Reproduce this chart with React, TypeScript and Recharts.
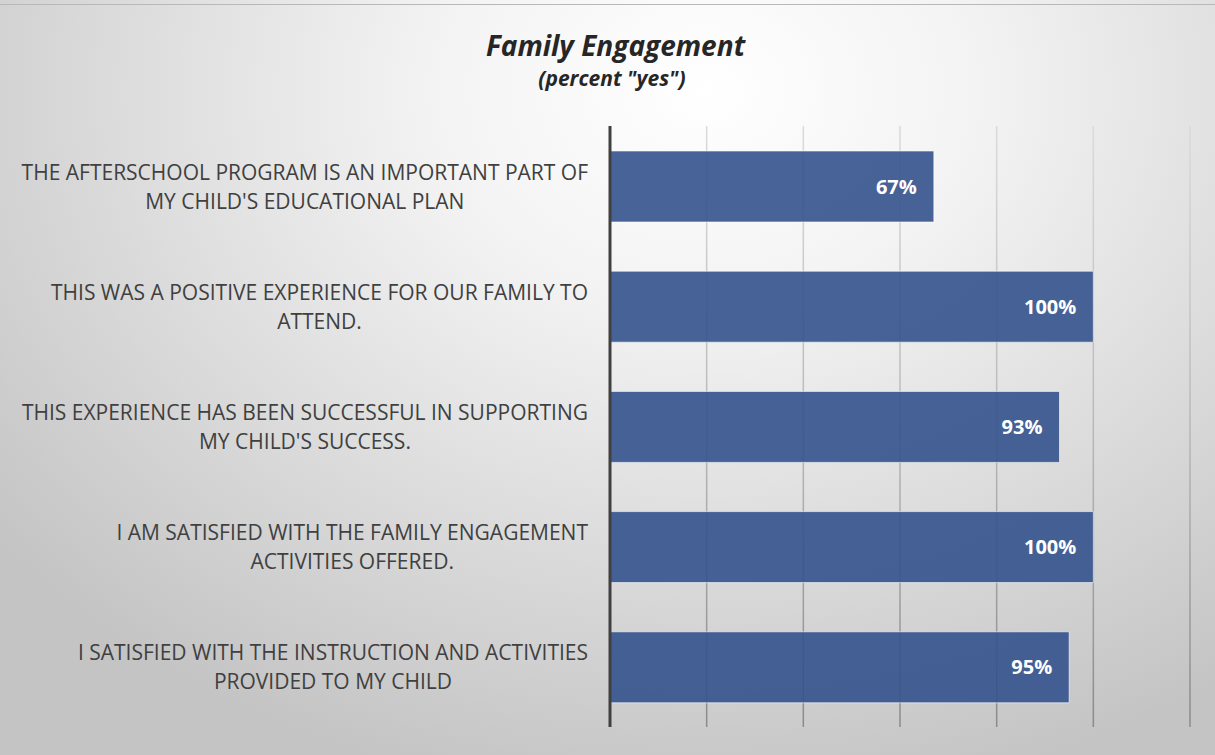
import React from "react";
import { BarChart, Bar, XAxis, YAxis, CartesianGrid, LabelList } from "recharts";

const categories = [
  "THE AFTERSCHOOL PROGRAM IS AN IMPORTANT PART OF\nMY CHILD'S EDUCATIONAL PLAN",
  "THIS WAS A POSITIVE EXPERIENCE FOR OUR FAMILY TO\nATTEND.",
  "THIS EXPERIENCE HAS BEEN SUCCESSFUL IN SUPPORTING\nMY CHILD'S SUCCESS.",
  "I AM SATISFIED WITH THE FAMILY ENGAGEMENT\nACTIVITIES OFFERED.",
  "I SATISFIED WITH THE INSTRUCTION AND ACTIVITIES\nPROVIDED TO MY CHILD",
];
const values = [67, 100, 93, 100, 95];
const xTicks = [0, 20, 40, 60, 80, 100, 120];

const data = categories.map((c, i) => ({ name: c, value: values[i] }));

const FONT = "'Open Sans', sans-serif";
const LABEL_SIZE = 21;

let measureCtx: CanvasRenderingContext2D | null = null;
function textWidth(s: string): number {
  if (!measureCtx) {
    const c = document.createElement("canvas");
    measureCtx = c.getContext("2d");
  }
  if (!measureCtx) return s.length * LABEL_SIZE * 0.6;
  measureCtx.font = `${LABEL_SIZE}px 'Open Sans'`;
  return measureCtx.measureText(s).width;
}

const CatTick = (props: any) => {
  const { x, y, payload } = props;
  const lines = String(payload.value).split("\n");
  const lh = 29;
  const start = y - ((lines.length - 1) * lh) / 2;
  const blockW = Math.max(...lines.map(textWidth));
  const cx = x - blockW / 2;
  return (
    <text
      x={cx}
      y={start}
      textAnchor="middle"
      fill="#404040"
      fontFamily={FONT}
      fontSize={LABEL_SIZE}
      dominantBaseline="central"
    >
      {lines.map((l, i) => (
        <tspan key={i} x={cx} y={start + i * lh} dominantBaseline="central">
          {l}
        </tspan>
      ))}
    </text>
  );
};

const EmptyTick = () => <g />;

export default function App() {
  return (
    <div
      style={{
        position: "absolute",
        left: 0,
        top: 0,
        width: 1215,
        height: 755,
        overflow: "hidden",
        background:
          "radial-gradient(ellipse 75% 95% at 58% 12%, #ffffff 0%, #f3f3f3 30%, #d8d8d8 70%, #c4c4c4 100%)",
      }}
    >
      <div
        style={{
          position: "absolute",
          left: 0,
          top: 4,
          width: 1215,
          height: 1,
          background: "#b8b8b8",
        }}
      />
      <div
        style={{
          position: "absolute",
          left: 0,
          top: 26,
          width: 1231,
          textAlign: "center",
          fontFamily: FONT,
          fontWeight: 700,
          fontStyle: "italic",
          fontSize: 28,
          color: "#262626",
          lineHeight: "38px",
        }}
      >
        Family Engagement
      </div>
      <div
        style={{
          position: "absolute",
          left: 0,
          top: 63,
          width: 1224,
          textAlign: "center",
          fontFamily: FONT,
          fontWeight: 700,
          fontStyle: "italic",
          fontSize: 21,
          color: "#262626",
          lineHeight: "30px",
        }}
      >
        (percent "yes")
      </div>
      <div style={{ position: "absolute", left: 0, top: 0 }}>
        <BarChart
          width={1215}
          height={755}
          data={data}
          layout="vertical"
          margin={{ top: 126, right: 25, bottom: 27, left: 0 }}
          barSize={71}
        >
          <defs>
            <linearGradient id="gridGrad" gradientUnits="userSpaceOnUse" x1="0" y1="126" x2="0" y2="728">
              <stop offset="0%" stopColor="#dadada" />
              <stop offset="50%" stopColor="#b8b8b8" />
              <stop offset="100%" stopColor="#8a8a8a" />
            </linearGradient>
          </defs>
          <CartesianGrid horizontal={false} vertical={true} stroke="url(#gridGrad)" strokeWidth={1.5} />
          <XAxis
            type="number"
            domain={[0, 120]}
            ticks={xTicks}
            interval={0}
            axisLine={false}
            tickLine={false}
            tick={<EmptyTick />}
            height={1}
          />
          <YAxis
            type="category"
            dataKey="name"
            width={610}
            axisLine={{ stroke: "#404040", strokeWidth: 3 }}
            tickLine={false}
            tickMargin={16}
            tick={<CatTick />}
            interval={0}
          />
          <Bar
            dataKey="value"
            fill="rgb(52,82,140)"
            fillOpacity={0.9}
            stroke="rgba(255,255,255,0.6)"
            strokeWidth={1}
            isAnimationActive={false}
          >
            <LabelList
              dataKey="value"
              position="insideRight"
              offset={17}
              formatter={(v: any) => `${v}%`}
              fill="#ffffff"
              fontFamily={FONT}
              fontWeight={700}
              fontSize={20}
            />
          </Bar>
        </BarChart>
      </div>
    </div>
  );
}
